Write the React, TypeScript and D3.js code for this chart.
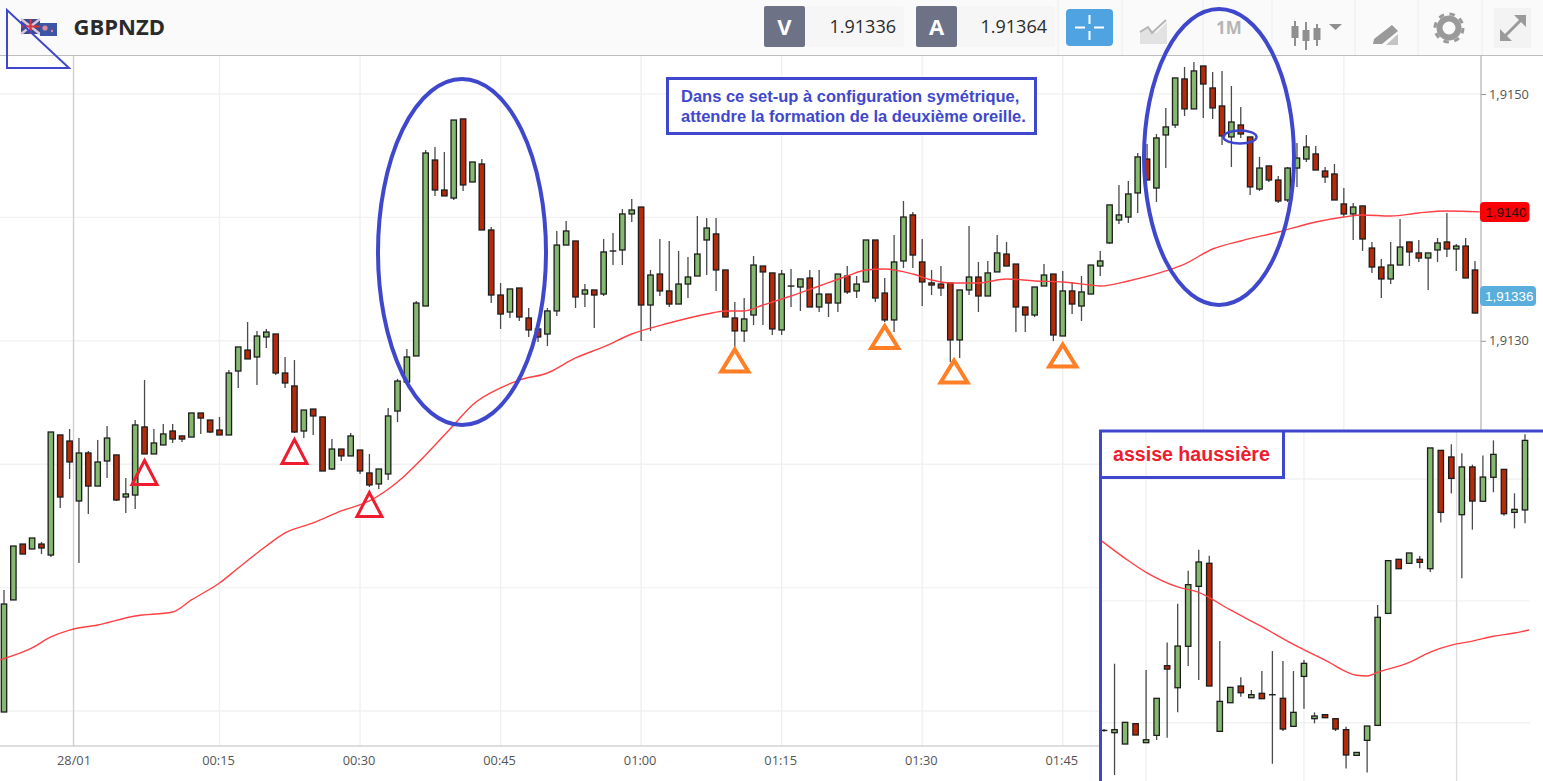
import { useEffect, useRef } from 'react';
import * as d3 from 'd3';

// all series are in pips above the base price of their panel
const mainBase = 1.91;
const insetBase = 1.907;

const openPips = [
  -0.08, 9.0, 13.53, 13.13, 13.53, 12.64, 22.37, 21.88, 17.02, 20.91,
  18.23, 20.26, 20.75, 17.34, 17.5, 23.02, 20.83, 21.56, 22.69, 22.29,
  22.2, 24.15, 23.58, 22.77, 22.37, 27.55, 29.25, 28.69, 30.31, 30.55,
  27.39, 26.34, 22.69, 24.47, 23.83, 19.61, 21.23, 20.67, 21.15, 19.29,
  18.4, 19.21, 24.31, 26.66, 28.77, 32.82, 44.65, 42.22, 41.57, 47.98,
  42.87, 44.33, 38.98, 33.71, 32.33, 34.28, 31.85, 30.96, 30.55, 32.42,
  37.76, 38.09, 33.79, 34.12, 33.79, 37.28, 37.36, 40.28, 40.84, 32.9,
  35.41, 34.04, 32.98, 34.6, 35.25, 38.17, 38.66, 35.74, 31.85, 30.8,
  32.09, 36.06, 35.5, 30.88, 34.44, 34.36, 35.09, 32.74, 33.79, 33.06,
  35.25, 34.04, 34.77, 38.17, 33.87, 31.69, 36.47, 40.2, 36.39, 34.69,
  34.6, 34.69, 30.07, 34.12, 35.17, 33.63, 35.58, 37.03, 36.22, 32.74,
  32.09, 34.44, 35.41, 30.39, 34.04, 32.82, 33.79, 36.06, 37.93, 39.79,
  40.03, 41.98, 44.73, 42.38, 46.68, 47.49, 51.22, 48.79, 52.27, 50.49,
  49.03, 46.52, 47.49, 46.52, 42.3, 44.17, 43.03, 41.41, 44.0, 44.73,
  45.14, 43.76, 43.52, 41.09, 40.28, 40.93, 37.52, 35.98, 35.01, 36.14,
  38.01, 37.12, 36.71, 37.36, 38.01, 37.44, 37.68, 35.74,
];
const highPips = [
  9.81, 13.37, 13.53, 14.02, 13.7, 22.61, 22.37, 22.85, 22.12, 21.07,
  21.96, 23.1, 20.75, 18.88, 23.58, 26.82, 22.85, 23.26, 23.26, 22.29,
  24.15, 24.15, 23.58, 23.83, 27.63, 29.5, 31.52, 30.8, 30.96, 30.55,
  28.69, 28.44, 24.39, 24.47, 23.83, 22.04, 21.23, 22.53, 21.15, 20.83,
  19.61, 24.56, 26.91, 29.34, 33.23, 45.46, 45.71, 45.3, 47.89, 47.98,
  44.49, 44.73, 39.22, 34.69, 34.2, 34.28, 32.66, 30.96, 32.66, 38.9,
  39.71, 38.09, 34.6, 34.12, 38.25, 38.74, 40.68, 41.49, 40.84, 35.74,
  38.25, 38.09, 37.28, 36.79, 40.11, 39.95, 39.95, 35.74, 33.15, 33.47,
  36.87, 36.06, 35.5, 35.74, 35.82, 35.01, 35.74, 35.74, 33.79, 35.41,
  36.06, 35.25, 38.17, 38.17, 35.09, 38.58, 41.33, 40.44, 38.25, 35.74,
  36.06, 34.69, 34.12, 39.3, 36.39, 36.47, 38.58, 38.01, 36.22, 32.74,
  34.36, 36.22, 35.41, 35.66, 34.77, 35.25, 36.14, 37.28, 41.01, 42.63,
  42.95, 45.22, 45.95, 46.76, 48.87, 51.3, 52.19, 52.59, 52.27, 51.79,
  51.87, 50.65, 48.95, 46.52, 44.9, 44.17, 43.36, 44.09, 46.03, 46.68,
  45.79, 44.09, 44.33, 42.38, 41.17, 40.93, 38.01, 36.63, 38.01, 39.87,
  38.01, 38.17, 37.12, 38.33, 40.36, 37.85, 38.33, 36.47,
];
const lowPips = [
  -0.08, 9.0, 12.72, 13.13, 12.72, 12.48, 16.45, 18.8, 11.99, 15.96,
  18.23, 18.88, 17.02, 16.05, 16.37, 20.83, 20.83, 21.56, 21.72, 21.8,
  22.2, 22.45, 22.53, 22.37, 22.37, 26.18, 28.53, 26.42, 29.42, 27.23,
  26.18, 22.53, 22.12, 22.37, 19.45, 19.53, 20.26, 20.67, 19.21, 18.15,
  17.99, 18.72, 23.42, 26.66, 28.77, 32.82, 41.74, 41.74, 41.41, 42.14,
  42.87, 38.98, 33.06, 30.96, 31.85, 31.61, 30.31, 29.9, 29.58, 32.01,
  37.76, 32.66, 32.74, 31.04, 33.63, 36.14, 36.14, 39.63, 29.98, 30.8,
  33.63, 32.74, 32.98, 33.47, 35.25, 35.33, 34.04, 31.93, 29.5, 29.9,
  31.28, 31.28, 30.47, 30.47, 32.74, 32.42, 32.74, 32.33, 31.93, 32.33,
  33.79, 33.47, 34.77, 33.15, 31.52, 30.71, 35.9, 35.9, 32.82, 33.71,
  33.63, 28.28, 28.61, 33.71, 32.33, 33.63, 35.58, 36.06, 30.71, 30.71,
  31.93, 34.44, 29.98, 30.39, 32.17, 31.61, 33.79, 35.25, 37.85, 39.47,
  39.55, 40.36, 43.03, 41.25, 44.0, 47.25, 48.22, 48.79, 48.06, 47.98,
  45.87, 44.09, 46.44, 41.82, 42.14, 42.87, 41.17, 41.25, 42.47, 44.49,
  43.84, 42.79, 41.41, 40.03, 38.17, 37.28, 35.5, 33.47, 34.6, 36.14,
  36.06, 36.39, 34.12, 36.39, 36.79, 35.66, 35.09, 32.25,
];
const closePips = [
  8.67, 13.37, 12.72, 14.02, 13.21, 22.61, 17.34, 20.18, 20.91, 18.23,
  20.18, 22.12, 17.1, 17.59, 23.18, 20.83, 21.72, 22.45, 22.04, 22.04,
  24.15, 23.74, 22.61, 22.37, 27.39, 29.5, 28.53, 30.39, 30.71, 27.39,
  26.58, 22.61, 24.39, 23.91, 19.45, 21.23, 20.67, 22.29, 19.45, 18.32,
  19.61, 23.91, 26.74, 28.69, 33.06, 45.22, 42.22, 41.74, 47.89, 42.63,
  44.49, 38.98, 33.71, 32.17, 34.2, 31.93, 30.88, 30.31, 32.42, 37.76,
  38.9, 33.55, 34.12, 33.71, 37.2, 37.28, 40.28, 40.6, 32.9, 35.33,
  34.04, 32.98, 34.6, 35.17, 37.03, 39.14, 35.74, 31.93, 30.8, 31.77,
  36.14, 35.58, 30.96, 35.41, 34.44, 35.01, 32.74, 33.79, 33.06, 35.41,
  33.96, 34.6, 38.17, 33.47, 31.69, 36.39, 40.03, 36.95, 34.77, 34.52,
  34.28, 30.07, 34.12, 35.17, 33.63, 35.5, 37.12, 36.06, 32.74, 32.09,
  34.36, 35.33, 30.47, 34.04, 32.98, 33.96, 36.14, 36.47, 41.01, 40.2,
  41.9, 44.9, 43.03, 46.44, 47.33, 51.3, 48.79, 51.87, 50.81, 48.87,
  46.6, 47.73, 46.76, 42.47, 44.0, 43.03, 41.33, 44.0, 44.81, 45.71,
  43.84, 43.28, 41.41, 40.28, 40.84, 38.25, 35.98, 35.01, 36.14, 37.6,
  37.2, 36.71, 37.12, 37.93, 37.44, 37.68, 35.09, 32.25,
];

const maCandles = [
  -0.4, 3, 5, 7, 10, 14, 18, 20, 23, 25, 28, 30, 33, 36, 39, 42, 45, 48, 50, 53, 55, 58, 61, 64, 67,
  71, 75, 77, 79, 81, 84, 87, 90, 92, 94, 97, 99, 101, 104, 107, 110, 113, 116, 117, 120, 124, 126,
  129, 132, 136, 140, 143, 145, 148, 151, 154, 157.5,
];
const maPips = [
  4.15, 5.11, 6.0, 6.56, 6.97, 7.7, 8.02, 9.0, 10.37, 11.59, 13.37, 14.43, 15.24, 16.21, 17.02, 18.56,
  20.75, 23.18, 24.8, 26.18, 26.82, 27.39, 28.61, 29.5, 30.55, 31.44, 32.17, 32.42, 32.42, 32.9, 33.63,
  34.44, 35.25, 35.74, 35.82, 35.41, 34.93, 34.69, 34.69, 35.01, 34.85, 34.77, 34.52, 34.44, 34.85,
  35.66, 36.22, 37.44, 38.09, 38.82, 39.63, 40.03, 40.2, 40.11, 40.36, 40.52, 40.45,
];

// candle index of each time label, the session start falls between two candles
const timeTickCandles = [7.42, 23, 38, 53, 68, 83, 98, 113, 128, 143];
const timeTickLabels = ['28/01', '00:15', '00:30', '00:45', '01:00', '01:15', '01:30', '01:45', '02:00', '02:15'];
const priceGrid = [1.91, 1.911, 1.912, 1.913, 1.914, 1.915];
const priceLabels = [1.911, 1.913, 1.915];

const redMarkCandles = [15, 31, 39];
const redMarkPips = [20.3, 22.0, 17.7];
const orangeMarkCandles = [78, 94, 101.4, 113];
const orangeMarkPips = [29.3, 31.2, 28.4, 29.7];

const insetOpen = [
  -0.63, -0.82, -1.75, -0.08, -1.64, -1.04, 4.68, 2.87, 6.27, 11.19, 13.08, -0.71, 1.64, 3.01, 2.05, 2.41,
  2.3, 2.0, -0.3, 3.8, 0.33, 0.66, 0.33, -0.57, -2.68, -1.45, -0.22, 8.97, 13.41, 13.08, 13.41, 12.64,
  22.35, 21.81, 17.07, 20.99, 18.17, 20.14, 20.79, 17.26, 17.46,
];
const insetHigh = [
  -0.52, 4.84, 0.03, -0.08, 4.32, 2.0, 6.59, 9.77, 12.48, 14.2, 13.71, 6.7, 2.9, 3.72, 2.68, 4.24,
  5.88, 5.06, 4.24, 5.14, 0.85, 0.66, 0.33, -0.33, -2.44, -0.27, 9.66, 13.35, 13.41, 13.93, 13.68, 22.55,
  22.35, 22.85, 22.11, 21.18, 21.92, 23.17, 20.79, 18.82, 23.67,
];
const insetLow = [
  -0.74, -4.3, -1.75, -1.01, -1.64, -1.42, -1.23, 0.85, 4.65, 3.5, 3.01, -0.71, 1.64, 2.13, 2.05, 1.97,
  -3.37, -0.68, -0.3, 1.15, -0.05, 0.41, -0.68, -3.75, -2.68, -4.08, -0.27, 8.97, 12.64, 13.08, 12.67, 12.37,
  16.44, 18.82, 11.85, 15.84, 18.17, 18.91, 16.99, 15.95, 16.36,
];
const insetClose = [
  -0.63, -0.57, 0.03, -1.01, -1.4, 2.0, 4.4, 6.29, 11.33, 13.19, 3.01, 1.75, 2.9, 2.46, 2.3, 1.97,
  2.3, -0.52, 0.85, 4.87, 0.55, 0.41, -0.52, -2.65, -2.44, -0.27, 8.65, 13.3, 12.64, 13.93, 13.16, 22.55,
  17.26, 20.05, 20.99, 18.19, 20.16, 22.02, 17.15, 17.51, 23.17,
];
const insetMaCandles = [-0.2, 2, 4, 7, 9, 12, 15, 18, 21, 24, 25, 26, 29, 31, 33, 35, 37, 39, 40.4];
const insetMaPips = [14.9, 13.49, 12.34, 11.14, 10.7, 9.25, 7.88, 6.43, 5.14, 3.89, 3.83, 4.13, 4.95, 5.8, 6.37, 6.7, 7.09, 7.36, 7.61];
const insetTimeTicks = [4, 19, 33.5];
const insetPriceGrid = [1.907, 1.908, 1.909];

const BLUE = '#3f48cc';
const BULL = '#84b96f';
const BEAR = '#b52a08';
const MA_RED = '#ff4045';
const SANS = '"Open Sans", sans-serif';
const ARIAL = '"Liberation Sans", Arial, sans-serif';

type G = d3.Selection<SVGGElement, unknown, null, undefined>;

const drawCandles = (
  g: G, o: number[], h: number[], l: number[], c: number[],
  x: d3.ScaleLinear<number, number>, y: d3.ScaleLinear<number, number>, base: number,
) => {
  const py = (pips: number) => y(base + pips / 10000);
  const idx = d3.range(o.length);
  g.selectAll('.wick').data(idx).enter().append('line')
    .attr('x1', i => x(i)).attr('x2', i => x(i))
    .attr('y1', i => py(h[i])).attr('y2', i => py(l[i]))
    .attr('stroke', '#4a4a4a').attr('stroke-width', 1.3);
  g.selectAll('.body').data(idx).enter().append('rect')
    .attr('x', i => x(i) - 2.7)
    .attr('width', 5.4)
    .attr('y', i => Math.min(py(o[i]), py(c[i])))
    .attr('height', i => Math.max(Math.abs(py(o[i]) - py(c[i])), 0.1))
    .attr('fill', i => (c[i] >= o[i] ? BULL : BEAR))
    .attr('stroke', '#1d1d1d')
    .attr('stroke-width', 1.3);
};

const triangle = (g: G, cx: number, apex: number, w: number, h: number, color: string, sw: number) => {
  g.append('path')
    .attr('d', `M${cx},${apex}L${cx + w / 2},${apex + h}L${cx - w / 2},${apex + h}Z`)
    .attr('fill', 'none').attr('stroke', color).attr('stroke-width', sw);
};

const App = () => {
  const svgRef = useRef<SVGSVGElement>(null);

  useEffect(() => {
    if (!svgRef.current) return;
    const svg = d3.select(svgRef.current);
    svg.selectAll('*').remove();

    const x = d3.scaleLinear().domain([0, 157]).range([4, 1475]);
    const y = d3.scaleLinear().domain([1.91, 1.915]).range([711, 94]);
    const py = (pips: number) => y(mainBase + pips / 10000);

    const root = svg.append('g') as unknown as G;

    root.append('rect').attr('width', 1543).attr('height', 781).attr('fill', '#fff');

    // grid
    const grid = root.append('g');
    grid.selectAll('.h').data(priceGrid).enter().append('line')
      .attr('x1', 0).attr('x2', 1481)
      .attr('y1', d => y(d)).attr('y2', d => y(d))
      .attr('stroke', '#f2f2f2').attr('stroke-width', 1.4);
    grid.selectAll('.v').data(timeTickCandles).enter().append('line')
      .attr('x1', d => x(d)).attr('x2', d => x(d))
      .attr('y1', 56).attr('y2', 746)
      .attr('stroke', (_, i) => (i === 0 ? '#cfcfcf' : '#f0f0f0')).attr('stroke-width', 1.4);

    // axes
    const xAxis = root.append('g')
      .attr('transform', 'translate(0,746)')
      .call(
        d3.axisBottom(x)
          .tickValues(timeTickCandles)
          .tickSize(0)
          .tickPadding(10)
          .tickFormat((_, i) => timeTickLabels[i]),
      );
    xAxis.select('.domain').attr('d', 'M0,0H1481').attr('stroke', '#bdbdbd').attr('stroke-width', 1.2);
    xAxis.selectAll('text').attr('font-family', SANS).attr('font-size', 12.8).attr('fill', '#555')
      .attr('dx', (_, i) => (i === 0 ? 0 : -1.5));

    const yAxis = root.append('g')
      .attr('transform', 'translate(1481,0)')
      .call(
        d3.axisRight(y)
          .tickValues(priceLabels)
          .tickSize(5)
          .tickPadding(3)
          .tickFormat(d => d3.format('.4f')(d as number).replace('.', ',')),
      );
    yAxis.select('.domain').attr('d', 'M0,56V746').attr('stroke', '#bdbdbd').attr('stroke-width', 1.4);
    yAxis.selectAll('line').attr('stroke', '#999');
    yAxis.selectAll('text').attr('font-family', SANS).attr('font-size', 12.8).attr('fill', '#555');

    // moving average under the candles' annotations
    const maLine = d3.line<number>()
      .x((_, i) => x(maCandles[i]))
      .y(d => py(d))
      .curve(d3.curveMonotoneX);

    drawCandles(root.append('g') as unknown as G, openPips, highPips, lowPips, closePips, x, y, mainBase);

    root.append('path').attr('d', maLine(maPips) as string)
      .attr('fill', 'none').attr('stroke', MA_RED).attr('stroke-width', 1.4);

    // price tags
    root.append('rect').attr('x', 1480).attr('y', 202).attr('width', 49.5).attr('height', 20).attr('rx', 4).attr('fill', '#fb0007');
    root.append('text').attr('x', 1485.5).attr('y', 217).text('1,9140')
      .attr('font-family', ARIAL).attr('font-size', 13.4).attr('fill', '#2a0808');
    root.append('rect').attr('x', 1480).attr('y', 286).attr('width', 56).attr('height', 20).attr('rx', 4).attr('fill', '#5aaedc');
    root.append('text').attr('x', 1485).attr('y', 301).text('1,91336')
      .attr('font-family', ARIAL).attr('font-size', 13.4).attr('fill', '#fff');

    // annotations
    redMarkCandles.forEach((c, i) => triangle(root, x(c), py(redMarkPips[i]), 25, 24, '#ee1c2e', 3));
    orangeMarkCandles.forEach((c, i) => triangle(root, x(c), py(orangeMarkPips[i]), 27, 22, '#ff7f27', 4));

    const ellipse = (cx: number, cy: number, rx: number, ry: number, sw: number) =>
      root.append('ellipse').attr('cx', cx).attr('cy', cy).attr('rx', rx).attr('ry', ry)
        .attr('fill', 'none').attr('stroke', BLUE).attr('stroke-width', sw);

    root.append('rect').attr('x', 667.5).attr('y', 78.5).attr('width', 368).attr('height', 55)
      .attr('fill', '#fff').attr('stroke', BLUE).attr('stroke-width', 3);
    ['Dans ce set-up à configuration symétrique,', 'attendre la formation de la deuxième oreille.'].forEach((t, i) => {
      root.append('text').attr('x', 681).attr('y', 102 + i * 20).text(t)
        .attr('font-family', ARIAL).attr('font-weight', 700).attr('font-size', 16.5).attr('fill', BLUE);
    });

    // inset zoom of the earlier session
    const inset = root.append('g') as unknown as G;
    inset.append('rect').attr('x', 1101).attr('y', 431).attr('width', 442).attr('height', 350).attr('fill', '#fff');

    const ix = d3.scaleLinear().domain([0, 40]).range([1104, 1525]);
    const iy = d3.scaleLinear().domain([1.907, 1.909]).range([722.7, 479]);
    const ipy = (pips: number) => iy(insetBase + pips / 10000);

    inset.selectAll('.ih').data(insetPriceGrid).enter().append('line')
      .attr('x1', 1101).attr('x2', 1530)
      .attr('y1', d => iy(d)).attr('y2', d => iy(d))
      .attr('stroke', '#f2f2f2').attr('stroke-width', 1.4);
    inset.selectAll('.iv').data(insetTimeTicks).enter().append('line')
      .attr('x1', d => ix(d)).attr('x2', d => ix(d))
      .attr('y1', 432).attr('y2', 781)
      .attr('stroke', (_, i) => (i === 2 ? '#dcdcdc' : '#f0f0f0')).attr('stroke-width', 1.4);

    drawCandles(inset, insetOpen, insetHigh, insetLow, insetClose, ix, iy, insetBase);

    const insetMa = d3.line<number>()
      .x((_, i) => ix(insetMaCandles[i]))
      .y(d => ipy(d))
      .curve(d3.curveMonotoneX);
    inset.append('path').attr('d', insetMa(insetMaPips) as string)
      .attr('fill', 'none').attr('stroke', MA_RED).attr('stroke-width', 1.4);

    inset.append('path').attr('d', 'M1543,431H1100.5V781').attr('fill', 'none').attr('stroke', BLUE).attr('stroke-width', 3);
    inset.append('path').attr('d', 'M1101,477.5H1283.5V431').attr('fill', 'none').attr('stroke', BLUE).attr('stroke-width', 3);
    inset.append('text').attr('x', 1113).attr('y', 460.5).text('assise haussière')
      .attr('font-family', ARIAL).attr('font-weight', 700).attr('font-size', 19.6).attr('fill', '#ee1c2e');

    // toolbar
    const bar = root.append('g') as unknown as G;
    bar.append('rect').attr('width', 1543).attr('height', 55).attr('fill', '#fafafa');
    bar.append('line').attr('x1', 0).attr('x2', 1543).attr('y1', 55.5).attr('y2', 55.5).attr('stroke', '#bdbdbd').attr('stroke-width', 1.2);
    [1058, 1122, 1203, 1272, 1355, 1418, 1482].forEach(sx => {
      bar.append('line').attr('x1', sx).attr('x2', sx).attr('y1', 0).attr('y2', 55).attr('stroke', '#ececec');
    });

    // flag
    bar.append('rect').attr('x', 21).attr('y', 19).attr('width', 19).attr('height', 15).attr('fill', '#3b4a8c');
    bar.append('path').attr('d', 'M21,19L40,34M40,19L21,34').attr('stroke', '#d9c8d8').attr('stroke-width', 2.5);
    bar.append('path').attr('d', 'M30.5,19V34M21,26.5H40').attr('stroke', '#e0323c').attr('stroke-width', 2.2);
    bar.append('rect').attr('x', 40).attr('y', 23).attr('width', 17).attr('height', 13).attr('fill', '#3c55a5');
    bar.append('circle').attr('cx', 45).attr('cy', 28).attr('r', 2.6).attr('fill', '#e08a9a');
    bar.append('circle').attr('cx', 52).attr('cy', 31).attr('r', 1.2).attr('fill', '#d88');

    bar.append('text').attr('x', 73.5).attr('y', 35).text('GBPNZD')
      .attr('font-family', SANS).attr('font-weight', 700).attr('font-size', 22).attr('fill', '#2b2b2b');

    const quote = (bx: number, letter: string, value: string, valueEnd: number) => {
      bar.append('rect').attr('x', bx + 41).attr('y', 6).attr('width', valueEnd - bx - 33).attr('height', 41).attr('rx', 2).attr('fill', '#f6f6f6');
      bar.append('rect').attr('x', bx).attr('y', 6).attr('width', 41).attr('height', 41).attr('rx', 2).attr('fill', '#6d7287');
      bar.append('text').attr('x', bx + 20.5).attr('y', 35).attr('text-anchor', 'middle').text(letter)
        .attr('font-family', SANS).attr('font-weight', 700).attr('font-size', 22).attr('fill', '#fff');
      bar.append('text').attr('x', valueEnd).attr('y', 33).attr('text-anchor', 'end').text(value)
        .attr('font-family', SANS).attr('font-size', 18).attr('fill', '#2b2b2b');
    };
    quote(764, 'V', '1.91336', 896);
    quote(916, 'A', '1.91364', 1047);

    // crosshair button
    bar.append('rect').attr('x', 1066).attr('y', 9).attr('width', 47).attr('height', 37).attr('rx', 4).attr('fill', '#4fa3e0');
    bar.append('path').attr('d', 'M1089.5,15V24M1089.5,31V40M1075,27.5H1085M1094,27.5H1104')
      .attr('stroke', '#fff').attr('stroke-width', 2);

    // chart type icon
    bar.append('path').attr('d', 'M1140,44V32L1148,27L1156,33L1167,22V44Z').attr('fill', '#e2e2e2');
    bar.append('path').attr('d', 'M1140,32L1148,27L1152,33L1166,20').attr('fill', 'none').attr('stroke', '#b5b5b5').attr('stroke-width', 2);
    bar.append('text').attr('x', 1216).attr('y', 34).text('1M')
      .attr('font-family', SANS).attr('font-weight', 700).attr('font-size', 17).attr('fill', '#b5b5b5');

    // candle icon
    [[1295, 26, 38, 21, 46], [1306, 30, 41, 22, 50], [1317, 28, 40, 24, 46]].forEach(([cx, t, b, wt, wb]) => {
      bar.append('line').attr('x1', cx).attr('x2', cx).attr('y1', wt).attr('y2', wb).attr('stroke', '#8f8f8f').attr('stroke-width', 2);
      bar.append('rect').attr('x', cx - 3.5).attr('y', t).attr('width', 7).attr('height', b - t).attr('fill', '#8f8f8f');
    });
    bar.append('path').attr('d', 'M1329,24H1342L1335.5,30Z').attr('fill', '#8f8f8f');

    // pencil icon
    bar.append('path').attr('d', 'M1374,39L1392,25L1398,31L1382,44L1373,44Z').attr('fill', '#9a9a9a');
    bar.append('path').attr('d', 'M1386,45L1398,34V45Z').attr('fill', '#c4c4c4');

    // gear icon
    bar.append('circle').attr('cx', 1449).attr('cy', 28).attr('r', 9.5)
      .attr('fill', 'none').attr('stroke', '#9a9a9a').attr('stroke-width', 6);
    bar.append('circle').attr('cx', 1449).attr('cy', 28).attr('r', 14)
      .attr('fill', 'none').attr('stroke', '#9a9a9a').attr('stroke-width', 3).attr('stroke-dasharray', '5.5 5.5');

    // expand icon
    bar.append('rect').attr('x', 1494).attr('y', 8).attr('width', 37).attr('height', 40).attr('fill', '#f3f3f3');
    bar.append('path').attr('d', 'M1503,38L1522,19').attr('stroke', '#9a9a9a').attr('stroke-width', 3);
    bar.append('path').attr('d', 'M1514,15H1526V27ZM1500,29V41H1512Z').attr('fill', '#9a9a9a');

    // hand-drawn marks stay above the toolbar and the inset
    ellipse(462, 252, 84, 173, 4);
    ellipse(1219, 157, 75, 148, 4);
    ellipse(1240, 137, 16.5, 6.5, 2.5);

    root.append('path').attr('d', 'M7,10V68H69Z').attr('fill', 'none').attr('stroke', BLUE).attr('stroke-width', 2);
  }, []);

  return <svg ref={svgRef} width={1543} height={781} style={{ position: 'absolute', left: 0, top: 0, display: 'block' }} />;
};

export default App;
